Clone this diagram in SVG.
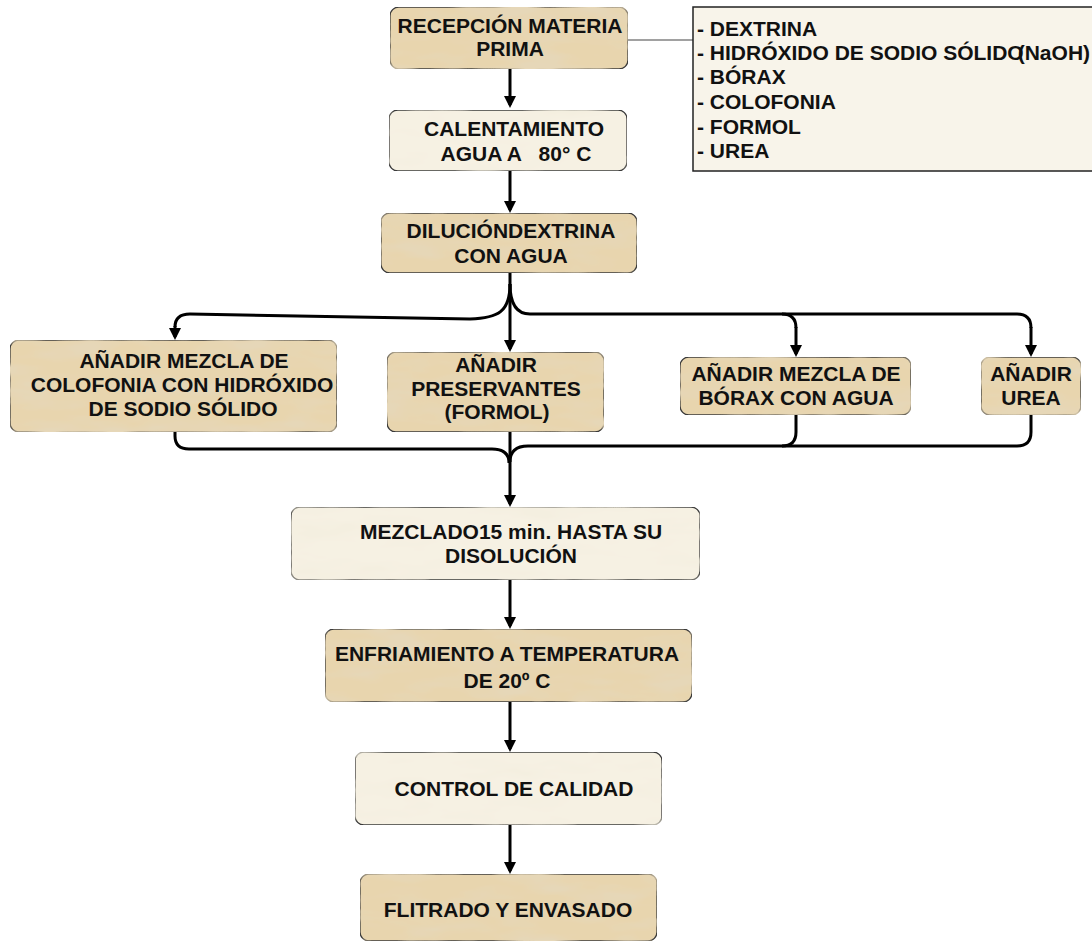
<svg xmlns="http://www.w3.org/2000/svg" width="1092" height="944" viewBox="0 0 1092 944">
  <defs>
    <style>
      .lbl { font-family: "Liberation Sans", Arial, sans-serif; font-weight: bold; font-size: 21px; fill: #111; text-anchor: middle; }
      .lst { font-family: "Liberation Sans", Arial, sans-serif; font-weight: bold; font-size: 21px; fill: #111; }
      .tan { fill: #e8d5ae; stroke: #3a3a3a; stroke-width: 1.3; filter: url(#parch); }
      .cream { fill: #f6f1e3; stroke: #3a3a3a; stroke-width: 1.3; filter: url(#parchLight); }
      .edge { fill: none; stroke: #000; stroke-width: 3; }
      .arrow { marker-end: url(#ah); }
    </style>
    <!-- mottled parchment texture clipped to the shape -->
    <filter id="parch" x="0" y="0" width="100%" height="100%">
      <feTurbulence type="fractalNoise" baseFrequency="0.014 0.05" numOctaves="3" seed="7" result="noise"/>
      <feColorMatrix in="noise" type="matrix" values="0 0 0 0 0.79  0 0 0 0 0.68  0 0 0 0 0.48  3.0 0 0 0 -1.3" result="spots"/>
      <feComposite in="spots" in2="SourceGraphic" operator="atop"/>
    </filter>
    <filter id="parchLight" x="0" y="0" width="100%" height="100%">
      <feTurbulence type="fractalNoise" baseFrequency="0.014 0.05" numOctaves="3" seed="11" result="noise"/>
      <feColorMatrix in="noise" type="matrix" values="0 0 0 0 0.90  0 0 0 0 0.86  0 0 0 0 0.74  2.0 0 0 0 -0.9" result="spots"/>
      <feComposite in="spots" in2="SourceGraphic" operator="atop"/>
    </filter>
    <marker id="ah" viewBox="0 0 12 12" refX="9" refY="6" markerWidth="12" markerHeight="12" markerUnits="userSpaceOnUse" orient="auto">
      <path d="M0,0 L12,6 L0,12 z" fill="#000"/>
    </marker>
  </defs>

  <rect width="1092" height="944" fill="#ffffff"/>

  <!-- connectors -->
  <g id="connectors">
    <line x1="628" y1="40" x2="693" y2="40" stroke="#444" stroke-width="1.2"/>
    <path class="edge arrow" d="M510,69 L510,105"/>
    <path class="edge arrow" d="M510,171 L510,210"/>
    <!-- split after dilution -->
    <path class="edge arrow" d="M510,273 L510,349"/>
    <path class="edge" d="M510,284 C510,312 498,318 470,319 L190,314 Q175,314 175,327"/>
    <path class="edge arrow" d="M175,326 L175,337"/>
    <path class="edge" d="M510,284 Q510,314 530,314 L1017,314 Q1031,314 1031,328"/>
    <path class="edge arrow" d="M1031,327 L1031,354"/>
    <path class="edge" d="M782,314 Q796,314 796,328"/>
    <path class="edge arrow" d="M796,327 L796,354"/>
    <!-- join into mixing -->
    <path class="edge arrow" d="M510,432 L510,504"/>
    <path class="edge" d="M175,432 L175,436 Q175,449 189,449 L492,449 Q509,449 509,463"/>
    <path class="edge" d="M1031,415 L1031,432 Q1031,446 1017,446 L528,446 Q510,446 510,462"/>
    <path class="edge" d="M796,415 L796,432 Q796,446 782,446"/>
    <path class="edge arrow" d="M510,580 L510,626"/>
    <path class="edge arrow" d="M510,702 L510,749"/>
    <path class="edge arrow" d="M510,825 L510,871"/>
  </g>

  <g id="recepcion">
    <rect class="tan" x="390" y="7" width="238" height="62" rx="9"/>
    <text class="lbl" x="510" y="33">RECEPCIÓN MATERIA</text>
    <text class="lbl" x="510" y="56">PRIMA</text>
  </g>

  <g id="materias">
    <rect x="693" y="7" width="405" height="164" fill="#f8f4ea" stroke="#222" stroke-width="1.5"/>
    <text class="lst" x="697" y="36">- DEXTRINA</text>
    <text class="lst" x="697" y="60">- HIDRÓXIDO DE SODIO SÓLIDO<tspan dx="-6">(NaOH)</tspan></text>
    <text class="lst" x="697" y="84">- BÓRAX</text>
    <text class="lst" x="697" y="109">- COLOFONIA</text>
    <text class="lst" x="697" y="134">- FORMOL</text>
    <text class="lst" x="697" y="158">- UREA</text>
  </g>

  <g id="calentamiento">
    <rect class="cream" x="389" y="110" width="238" height="61" rx="9"/>
    <text class="lbl" x="514" y="136">CALENTAMIENTO</text>
    <text class="lbl" x="516" y="161" xml:space="preserve">AGUA A   80° C</text>
  </g>

  <g id="dilucion">
    <rect class="tan" x="381" y="213" width="256" height="60" rx="9"/>
    <text class="lbl" x="511" y="238">DILUCIÓNDEXTRINA</text>
    <text class="lbl" x="511" y="263">CON AGUA</text>
  </g>

  <g id="colofonia">
    <rect class="tan" x="10" y="340" width="327" height="92" rx="9"/>
    <text class="lbl" x="184" y="368">AÑADIR MEZCLA DE</text>
    <text class="lbl" x="182" y="392">COLOFONIA CON HIDRÓXIDO</text>
    <text class="lbl" x="183" y="416">DE SODIO SÓLIDO</text>
  </g>

  <g id="preservantes">
    <rect class="tan" x="387" y="352" width="217" height="80" rx="9"/>
    <text class="lbl" x="496" y="372">AÑADIR</text>
    <text class="lbl" x="496" y="396">PRESERVANTES</text>
    <text class="lbl" x="497" y="419">(FORMOL)</text>
  </g>

  <g id="borax">
    <rect class="tan" x="680" y="357" width="231" height="58" rx="9"/>
    <text class="lbl" x="796" y="381">AÑADIR MEZCLA DE</text>
    <text class="lbl" x="796" y="405">BÓRAX CON AGUA</text>
  </g>

  <g id="urea">
    <rect class="tan" x="981" y="357" width="100" height="58" rx="9"/>
    <text class="lbl" x="1031" y="381">AÑADIR</text>
    <text class="lbl" x="1031" y="405">UREA</text>
  </g>

  <g id="mezclado">
    <rect class="cream" x="291" y="507" width="409" height="73" rx="9"/>
    <text class="lbl" x="511" y="539">MEZCLADO15 min. HASTA SU</text>
    <text class="lbl" x="511" y="563">DISOLUCIÓN</text>
  </g>

  <g id="enfriamiento">
    <rect class="tan" x="325" y="629" width="367" height="73" rx="9"/>
    <text class="lbl" x="507" y="661">ENFRIAMIENTO A TEMPERATURA</text>
    <text class="lbl" x="507" y="688">DE 20º C</text>
  </g>

  <g id="control">
    <rect class="cream" x="355" y="752" width="307" height="73" rx="9"/>
    <text class="lbl" x="514" y="796">CONTROL DE CALIDAD</text>
  </g>

  <g id="envasado">
    <rect class="tan" x="360" y="874" width="297" height="67" rx="9"/>
    <text class="lbl" x="508" y="917">FLITRADO Y ENVASADO</text>
  </g>
</svg>
